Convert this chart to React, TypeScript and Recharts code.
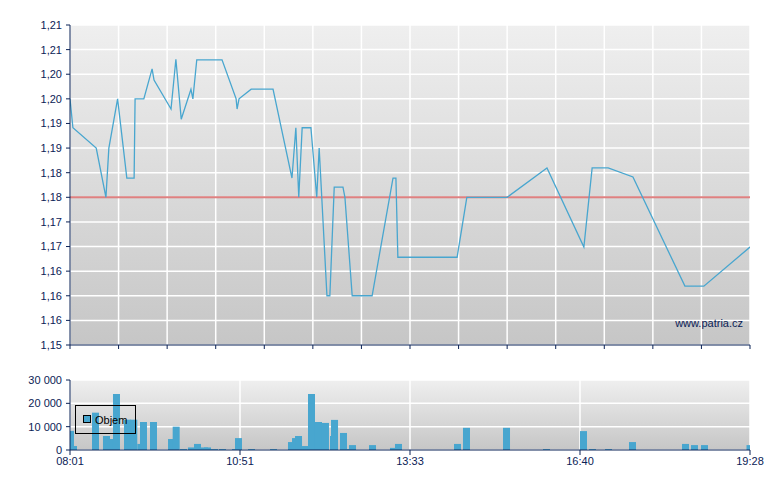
import { LineChart, Line, BarChart, Bar, XAxis, YAxis, CartesianGrid, ReferenceLine } from "recharts";

// price line: position on the 14-slot time grid, price
const PRICE_POS = [
  0, 0.06, 0.54, 0.74, 0.8, 0.98, 1.17, 1.32, 1.34, 1.52,
  1.69, 1.73, 2.08, 2.18, 2.29, 2.49, 2.53, 2.61, 3.13, 3.42,
  3.44, 3.48, 3.73, 4.18, 4.57, 4.65, 4.71, 4.78, 4.96, 5.08,
  5.13, 5.29, 5.35, 5.44, 5.62, 5.66, 5.81, 6.22, 6.65, 6.71,
  6.75, 7.97, 8.17, 9.0, 9.82, 10.58, 10.75, 11.08, 11.59, 12.66,
  13.05, 14.0,
];
const PRICE_VALUES = [
  1.1984, 1.193, 1.1892, 1.18, 1.1892, 1.1984, 1.1836, 1.1836, 1.1984, 1.1984,
  1.204, 1.2019, 1.1965, 1.2058, 1.1946, 1.2002, 1.1984, 1.2057, 1.2057, 1.1984,
  1.1965, 1.1984, 1.2002, 1.2002, 1.1836, 1.193, 1.18, 1.193, 1.193, 1.18,
  1.1892, 1.1616, 1.1616, 1.1819, 1.1819, 1.18, 1.1616, 1.1616, 1.1836, 1.1836,
  1.1688, 1.1688, 1.18, 1.18, 1.1855, 1.1707, 1.1855, 1.1855, 1.1838, 1.1634,
  1.1634, 1.1707,
];
const PREV_CLOSE = 1.18;

const PRICE_TICKS = [
  1.1524, 1.157, 1.1616, 1.1662, 1.1708, 1.1754, 1.18,
  1.1846, 1.1892, 1.1938, 1.1984, 1.203, 1.2076, 1.2122,
];
const PRICE_TICK_LABELS = [
  "1,15", "1,16", "1,16", "1,16", "1,17", "1,17", "1,18",
  "1,18", "1,19", "1,19", "1,20", "1,20", "1,21", "1,21",
];
const GRID_POS = [0, 1, 2, 3, 4, 5, 6, 7, 8, 9, 10, 11, 12, 13, 14];

// volume bars
const VOLUME_POS = [
  0.072, 0.01, 0.525, 0.751, 0.889, 0.957, 1.184, 1.313, 1.458, 1.513,
  1.719, 2.09, 2.186, 2.337, 2.501, 2.625, 2.769, 2.831, 2.975, 3.14,
  3.407, 3.469, 3.737, 4.19, 4.56, 4.643, 4.705, 4.849, 4.972, 5.116,
  5.26, 5.425, 5.446, 5.631, 5.775, 5.816, 6.228, 6.66, 6.763, 7.978,
  8.163, 8.987, 9.81, 10.572, 10.757, 11.087, 11.581, 12.672, 12.857, 13.063,
  14.0,
];
const VOLUME_VALUES = [
  1700, 8200, 16000, 6000, 4700, 24000, 13000, 13000, 2600, 12000,
  12000, 4700, 10000, 400, 1100, 2600, 1100, 1100, 400, 400,
  400, 5100, 400, 400, 3400, 5100, 6000, 1700, 24000, 12000,
  11600, 6000, 12900, 7300, 400, 2100, 2100, 900, 2600, 2600,
  9500, 9500, 400, 8100, 400, 400, 3400, 2600, 2100, 2100,
  2100,
];
const VOLUME_TICKS = [0, 10000, 20000, 30000];
const TIME_POS = [0, 3.5, 7, 10.5, 14];
const TIME_LABELS = ["08:01", "10:51", "13:33", "16:40", "19:28"];

const NAVY = "#0b2256";
const BLUE = "#48a6cf";
const FONT = '"Liberation Sans", Arial, sans-serif';

const priceData = PRICE_POS.map((pos, i) => ({ pos, price: PRICE_VALUES[i] }));
const volumeData = VOLUME_POS.map((pos, i) => ({ pos, vol: VOLUME_VALUES[i] }));

const tickStyle = { fontSize: 11, fill: NAVY, fontFamily: FONT };

function fmtThousands(v: number): string {
  return String(v).replace(/\B(?=(\d{3})+(?!\d))/g, " ");
}

function VolumeBar(props: any) {
  const { x, y, width, height } = props;
  if (!height || height <= 0) return null;
  return <rect x={x + width / 2 - 3.5} y={y} width={7} height={height} fill={BLUE} />;
}

function Gradient({ id }: { id: string }) {
  return (
    <defs>
      <linearGradient id={id} x1="0" y1="0" x2="0" y2="1">
        <stop offset="0" stopColor="#efefef" />
        <stop offset="1" stopColor="#c6c6c6" />
      </linearGradient>
    </defs>
  );
}

export default function App() {
  return (
    <div
      style={{
        position: "absolute",
        left: 0,
        top: 0,
        width: 780,
        height: 490,
        background: "#fff",
        fontFamily: FONT,
      }}
    >
      <div style={{ position: "absolute", left: 0, top: 0 }}>
        <LineChart
          width={780}
          height={360}
          data={priceData}
          margin={{ top: 25, right: 30, bottom: 0, left: 0 }}
        >
          <Gradient id="priceBg" />
          <CartesianGrid fill="url(#priceBg)" stroke="#fff" strokeWidth={1.5} />
          <XAxis
            type="number"
            dataKey="pos"
            domain={[0, 14]}
            ticks={GRID_POS}
            tickFormatter={() => ""}
            height={15}
            stroke={NAVY}
            tickSize={4}
            allowDataOverflow
          />
          <YAxis
            type="number"
            domain={[PRICE_TICKS[0], PRICE_TICKS[PRICE_TICKS.length - 1]]}
            ticks={PRICE_TICKS}
            tickFormatter={(v: number, i: number) => PRICE_TICK_LABELS[i] ?? ""}
            width={70}
            stroke={NAVY}
            tick={tickStyle}
            tickSize={4}
            tickMargin={4}
            interval={0}
            allowDataOverflow
          />
          <ReferenceLine y={PREV_CLOSE} stroke="#d96a6a" strokeWidth={2} strokeOpacity={0.85} />
          <Line
            type="linear"
            dataKey="price"
            stroke={BLUE}
            strokeWidth={1.3}
            dot={false}
            activeDot={false}
            isAnimationActive={false}
          />
          <text x={743} y={327} textAnchor="end" fontSize={11} fill={NAVY} fontFamily={FONT}>
            www.patria.cz
          </text>
        </LineChart>
      </div>

      <div style={{ position: "absolute", left: 0, top: 360 }}>
        <BarChart
          width={780}
          height={130}
          data={volumeData}
          margin={{ top: 20, right: 30, bottom: 10, left: 0 }}
        >
          <Gradient id="volBg" />
          <CartesianGrid fill="url(#volBg)" stroke="#fff" strokeWidth={1.5} />
          <XAxis
            type="number"
            dataKey="pos"
            domain={[0, 14]}
            ticks={TIME_POS}
            tickFormatter={(v: number, i: number) => TIME_LABELS[i] ?? ""}
            height={30}
            stroke={NAVY}
            tick={tickStyle}
            tickSize={5}
            tickMargin={2}
            interval={0}
            allowDataOverflow
          />
          <YAxis
            type="number"
            domain={[0, 30000]}
            ticks={VOLUME_TICKS}
            tickFormatter={fmtThousands}
            width={70}
            stroke={NAVY}
            tick={tickStyle}
            tickSize={4}
            tickMargin={4}
            interval={0}
          />
          <Bar dataKey="vol" fill={BLUE} shape={VolumeBar} isAnimationActive={false} />
        </BarChart>
      </div>

      {/* legend box sits on top of the bars */}
      <svg
        width={780}
        height={130}
        style={{ position: "absolute", left: 0, top: 360, pointerEvents: "none" }}
      >
        <rect x={75.5} y={45.5} width={60} height={28} fill="none" stroke="#000" />
        <rect x={83.5} y={55.5} width={7} height={7} fill={BLUE} stroke="#000" />
        <text x={95} y={64} fontSize={11} fill="#000" fontFamily={FONT}>
          Objem
        </text>
      </svg>
    </div>
  );
}
